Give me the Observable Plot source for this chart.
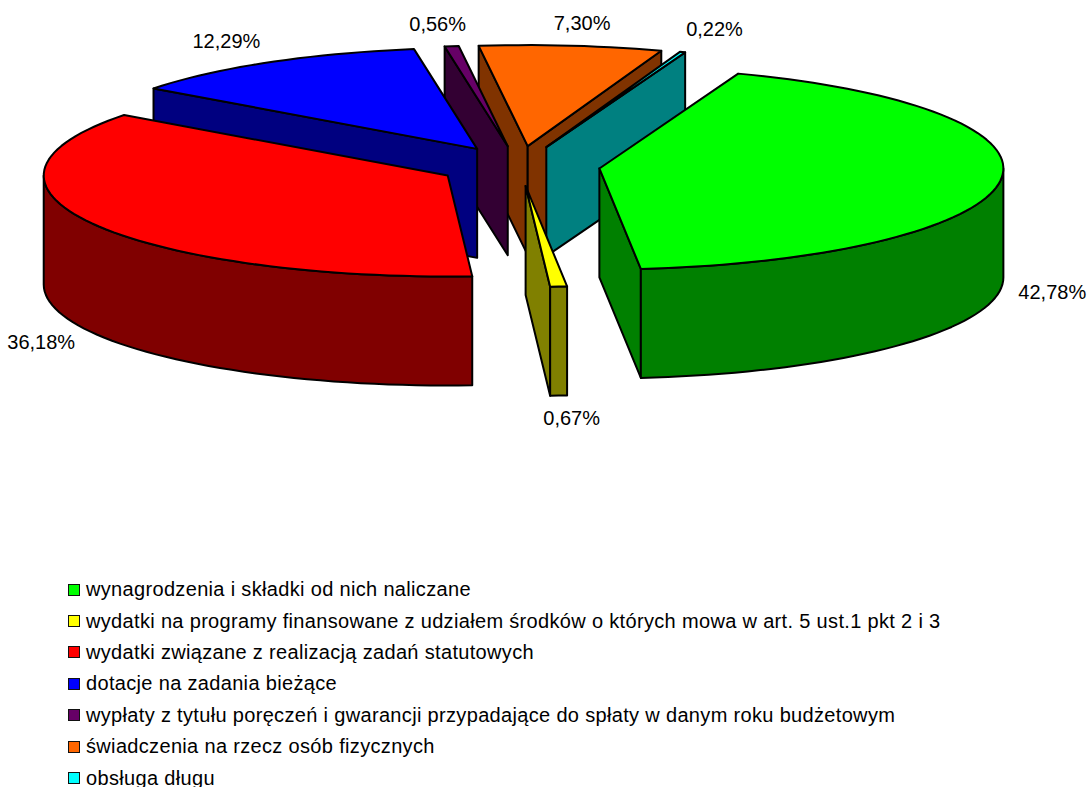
<!DOCTYPE html>
<html lang="pl">
<head>
<meta charset="utf-8">
<script src="https://cdn.jsdelivr.net/npm/d3@7"></script>
<script src="https://cdn.jsdelivr.net/npm/@observablehq/plot@0.6"></script>
<style>
html,body{margin:0;padding:0;background:#fff;overflow:hidden;height:787px}
#legend{font-family:"Liberation Sans",Arial,sans-serif;font-size:20px;letter-spacing:.33px;line-height:17px;color:#000;padding-left:68px}
.row{height:31.4px;display:flex;align-items:center;white-space:nowrap}
.sw{width:10px;height:10px;border:1.5px solid #111;margin-right:6px;flex:none}
</style>
</head>
<body>
<div id="chart"></div>
<div id="legend"></div>
<script>
// Data
const categories = [
  "wynagrodzenia i składki od nich naliczane",
  "wydatki na programy finansowane z udziałem środków o których mowa w art. 5 ust.1 pkt 2 i 3",
  "wydatki związane z realizacją zadań statutowych",
  "dotacje na zadania bieżące",
  "wypłaty z tytułu poręczeń i gwarancji przypadające do spłaty w danym roku budżetowym",
  "świadczenia na rzecz osób fizycznych",
  "obsługa długu"
];
const shares = [42.78, 0.67, 36.18, 12.29, 0.56, 7.30, 0.22];
const shareLabels = ["42,78%", "0,67%", "36,18%", "12,29%", "0,56%", "7,30%", "0,22%"];
const topColors = ["#00ff00", "#ffff00", "#ff0000", "#0000ff", "#660066", "#ff6600", "#00ffff"];
const sideColors = ["#008000", "#808000", "#800000", "#000080", "#330033", "#803300", "#008080"];

// Layout of the exploded 3-D pie
const W = 1089, H = 574;
const firstAngle = 20.1, cx = 518.5, cy = 165.5, rx = 404, ry = 101, depth = 109, explodeX = 81, explodeY = 20;
const drawOrder = [5, 6, 4, 3, 2, 1, 0];
const labelNudgeX = [52, 13, -51, -42, -14, 11, 32];
const labelNudgeY = [112, 132, 119, -21, -22, -22, -22];

const rad = d => d * Math.PI / 180;
let acc = firstAngle;
const total = d3.sum(shares);
const slices = shares.map((v, i) => {
  const a0 = acc, a1 = acc + v / total * 360; acc = a1;
  const mid = (a0 + a1) / 2;
  const ox = cx + explodeX * Math.sin(rad(mid));
  const oy = cy - explodeY * Math.cos(rad(mid));
  return {i, a0, a1, mid, ox, oy};
});
const rim = (s, a) => [s.ox + rx * Math.sin(rad(a)), s.oy - ry * Math.cos(rad(a))];
const arc = (s, a0, a1) => {
  const n = Math.max(2, Math.ceil(Math.abs(a1 - a0) / 2));
  return d3.range(n + 1).map(k => rim(s, a0 + (a1 - a0) * k / n));
};
const rows = [];
let faceId = 0;
function addFace(pts, color) {
  const id = faceId++;
  [...pts, pts[0]].forEach(p => rows.push({x: p[0], y: p[1], face: id, color}));
}
const down = p => [p[0], p[1] + depth];
for (const i of drawOrder) {
  const s = slices[i], side = sideColors[i], o = [s.ox, s.oy];
  // cut faces that look toward the viewer
  if (Math.sin(rad(s.a0)) < 0) {
    const r = rim(s, s.a0);
    addFace([o, r, down(r), down(o)], side);
  }
  if (Math.sin(rad(s.a1)) > 0) {
    const r = rim(s, s.a1);
    addFace([o, r, down(r), down(o)], side);
  }
  // outer wall: the front half of the ellipse only
  const w0 = Math.max(s.a0, 90), w1 = Math.min(s.a1, 270);
  if (w1 > w0) {
    const top = arc(s, w0, w1);
    addFace([...top, ...top.slice().reverse().map(down)], side);
  }
  addFace([o, ...arc(s, s.a0, s.a1)], topColors[i]);
}

const labelRows = slices.map(s => {
  const r = rim(s, s.mid);
  return {x: r[0] + labelNudgeX[s.i], y: r[1] + labelNudgeY[s.i], text: shareLabels[s.i]};
});

const chart = Plot.plot({
  width: W, height: H,
  margin: 0,
  style: {background: "#fff", display: "block"},
  x: {domain: [0, W], range: [0, W], axis: null},
  y: {domain: [0, H], range: [0, H], axis: null},
  marks: [
    Plot.line(rows, {x: "x", y: "y", z: "face", fill: "color", stroke: "#000", strokeWidth: 2, strokeLinejoin: "round", curve: "linear"}),
    Plot.text(labelRows, {x: "x", y: "y", text: "text", fontSize: 20, fontFamily: "Liberation Sans, Arial, sans-serif", fill: "#000", textAnchor: "middle", lineAnchor: "middle"})
  ]
});
document.getElementById("chart").appendChild(chart);

const legend = d3.select("#legend");
categories.forEach((c, i) => {
  const row = legend.append("div").attr("class", "row");
  row.append("span").attr("class", "sw").style("background", topColors[i]);
  row.append("span").text(c);
});
</script>
</body>
</html>
